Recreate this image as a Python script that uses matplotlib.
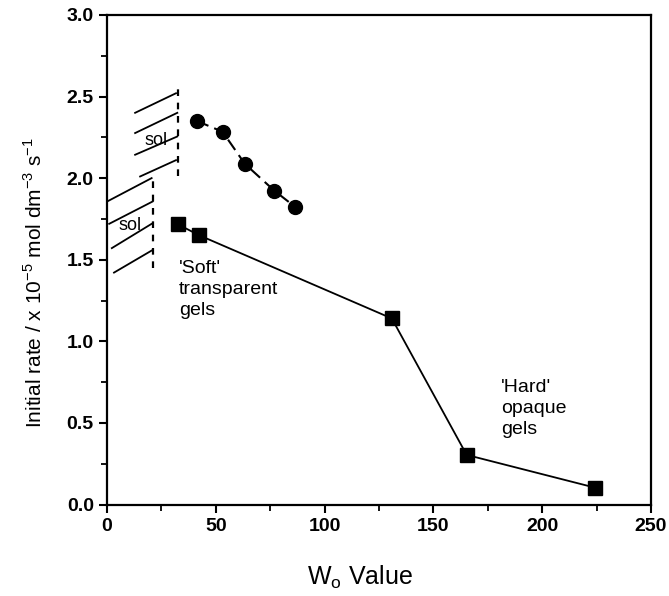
import matplotlib
matplotlib.use("Agg")
import matplotlib.pyplot as plt
from matplotlib.ticker import MultipleLocator

plt.rcParams['font.family'] = ['Liberation Sans', 'DejaVu Sans']

# upper series (circles)
wo_circle = [41.3, 53.1, 63.3, 76.8, 86.5]
rate_circle = [2.35, 2.284, 2.088, 1.924, 1.823]

# lower series (squares)
wo_square = [32.4, 42.3, 130.9, 165.3, 224.4]
rate_square = [1.718, 1.650, 1.140, 0.304, 0.103]

# sol / gel boundaries (dashed) and hatch strokes
upper_bound_x = 32.8
upper_bound_y = [2.01, 2.57]
lower_bound_x = 21.2
lower_bound_y = [1.448, 1.99]

upper_hatch = [
    ((12.9, 2.40), (31.7, 2.52)),
    ((12.9, 2.276), (32.3, 2.40)),
    ((12.9, 2.143), (32.3, 2.255)),
    ((15.2, 2.01), (31.7, 2.11)),
]
lower_hatch = [
    ((0.1, 1.857), (20.5, 2.0)),
    ((1.0, 1.72), (21.0, 1.857)),
    ((2.2, 1.571), (21.0, 1.724)),
    ((3.2, 1.421), (21.0, 1.56)),
]

fig = plt.figure(figsize=(6.69, 5.96), dpi=100)
ax = fig.add_axes([0.160, 0.1535, 0.813, 0.8215])

ax.plot(wo_circle, rate_circle, color='black', lw=1.5, marker='o',
        markersize=10, markerfacecolor='black', dashes=(6, 3))
ax.plot(wo_square, rate_square, color='black', lw=1.3, marker='s',
        markersize=10.5, markerfacecolor='black')

ax.plot([upper_bound_x, upper_bound_x], upper_bound_y, color='black', lw=1.6, ls=(0, (3, 3)))
ax.plot([lower_bound_x, lower_bound_x], lower_bound_y, color='black', lw=1.6, ls=(0, (3, 3)))
for (x0, y0), (x1, y1) in upper_hatch + lower_hatch:
    ax.plot([x0, x1], [y0, y1], color='black', lw=1.3)

ax.text(22.5, 2.23, 'sol', fontsize=13, ha='center', va='center')
ax.text(10.6, 1.71, 'sol', fontsize=13, ha='center', va='center')

ax.text(33, 1.50, "'Soft'\ntransparent\ngels", fontsize=14, ha='left', va='top',
        linespacing=1.3)
ax.text(181, 0.77, "'Hard'\nopaque\ngels", fontsize=14, ha='left', va='top',
        linespacing=1.3)

ax.set_xlim(0, 250)
ax.set_ylim(0, 3.0)
ax.xaxis.set_major_locator(MultipleLocator(50))
ax.xaxis.set_minor_locator(MultipleLocator(25))
ax.yaxis.set_major_locator(MultipleLocator(0.5))
ax.yaxis.set_minor_locator(MultipleLocator(0.25))
ax.yaxis.set_major_formatter(plt.FormatStrFormatter('%.1f'))
ax.tick_params(which='major', direction='out', length=6, width=1.5, labelsize=14)
ax.tick_params(which='minor', direction='out', length=4, width=1.3)
for lab in ax.get_xticklabels() + ax.get_yticklabels():
    lab.set_fontweight('bold')
for sp in ax.spines.values():
    sp.set_linewidth(1.6)

fig.text(0.538, 0.032, 'W$_\\mathregular{o}$ Value', fontsize=18, ha='center', va='center')
ax.set_ylabel('Initial rate / x 10$^\\mathregular{-5}$ mol dm$^\\mathregular{-3}$ s$^\\mathregular{-1}$',
              fontsize=15, labelpad=6)
ax.yaxis.set_label_coords(-0.112, 0.4525)

fig.savefig('out.png', dpi=100)
